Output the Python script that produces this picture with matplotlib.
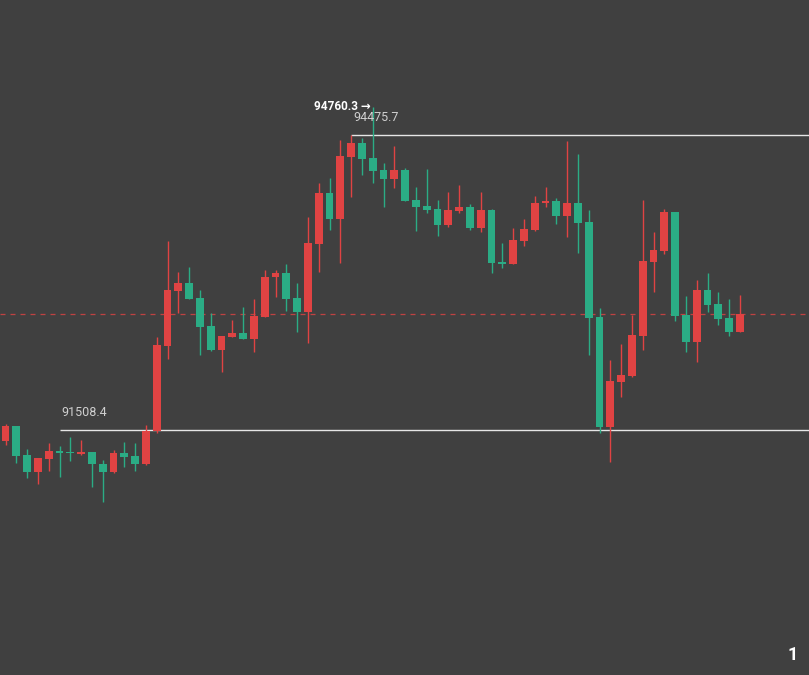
import matplotlib.pyplot as plt
import numpy as np

# OHLC (price units)
opens = [91398, 91549, 91257, 91086, 91217, 91297, 91287, 91267, 91287, 91166,
         91086, 91277, 91247, 91166, 91498, 92354, 92907, 92987, 92836, 92555,
         92314, 92444, 92484, 92424, 92645, 93048, 93088, 92836, 92696, 93380,
         93893, 93631, 94255, 94396, 94245, 94124, 94033, 94124, 93822, 93761,
         93731, 93570, 93711, 93751, 93540, 93721, 93199, 93179, 93410, 93520,
         93792, 93812, 93661, 93792, 93601, 92645, 91539, 91991, 92052, 92454,
         93199, 93309, 93701, 92665, 92394, 92917, 92776, 92635, 92494]
highs = [91569, 91549, 91318, 91227, 91378, 91348, 91438, 91408, 91290, 91206,
         91307, 91388, 91378, 91559, 92444, 93410, 93098, 93148, 92917, 92686,
         92454, 92615, 92746, 92826, 93118, 93118, 93178, 92987, 93651, 93993,
         94044, 94426, 94475.7, 94446, 94760.3, 94194, 94365, 94144, 93953, 94134,
         93822, 93902, 93973, 93782, 93902, 93731, 93390, 93540, 93631, 93862,
         93953, 93842, 94416, 94285, 93721, 92736, 92213, 92374, 92665, 93822,
         93500, 93731, 93705, 92856, 93017, 93088, 92897, 92826, 92866]
lows = [91358, 91177, 91026, 90965, 91096, 91036, 91197, 91260, 90935, 90784,
        91080, 91136, 91096, 91160, 91478, 92223, 92686, 92826, 92263, 92305,
        92092, 92440, 92424, 92293, 92640, 92846, 92706, 92494, 92384, 93098,
        93520, 93189, 93852, 94073, 93993, 93751, 93943, 93812, 93510, 93691,
        93460, 93550, 93691, 93520, 93500, 93088, 93138, 93175, 93359, 93515,
        93751, 93580, 93450, 93289, 92263, 91478, 91185, 91838, 92045, 92314,
        92897, 93279, 92605, 92293, 92193, 92696, 92565, 92454, 92490]
closes = [91549, 91247, 91086, 91227, 91297, 91277, 91272, 91287, 91166, 91086,
          91277, 91237, 91166, 91498, 92364, 92917, 92987, 92826, 92545, 92314,
          92454, 92484, 92424, 92655, 93048, 93088, 92826, 92696, 93390, 93893,
          93631, 94265, 94396, 94235, 94114, 94033, 94124, 93812, 93751, 93721,
          93570, 93721, 93751, 93540, 93721, 93189, 93179, 93420, 93530, 93792,
          93812, 93661, 93792, 93591, 92635, 91539, 92001, 92062, 92464, 93209,
          93319, 93701, 92655, 92394, 92917, 92766, 92625, 92494, 92675]

upper_level = 94475.7
lower_level = 91508.4
max_high = 94760.3
upper_start = 32
lower_start = 5

bg = '#404040'
up_col = '#e04343'
down_col = '#2bac85'

o = np.array(opens, dtype=float)
h = np.array(highs, dtype=float)
l = np.array(lows, dtype=float)
c = np.array(closes, dtype=float)
x = np.arange(len(o))
cols = [up_col if cc >= oo else down_col for oo, cc in zip(o, c)]

fig = plt.figure(figsize=(8.09, 6.75), dpi=100)
fig.patch.set_facecolor(bg)
ax = fig.add_axes([0, 0, 1, 1])
ax.set_facecolor(bg)

ax.vlines(x, l, h, colors=cols, linewidth=1.0, zorder=2)
body = np.maximum(np.abs(c - o), 12)
ax.bar(x, body, bottom=np.minimum(o, c), width=0.74, color=cols, zorder=3)

# level lines
ax.hlines(upper_level, upper_start, 80, colors='#e6e6e6', linewidth=1.0, zorder=1)
ax.hlines(lower_level, lower_start, 80, colors='#e6e6e6', linewidth=1.0, zorder=1)
ax.axhline(c[-1], color=up_col, linestyle=(0, (4, 4)), linewidth=0.9, alpha=0.8, zorder=1)

ax.annotate(f'{upper_level:.1f}', (upper_start, upper_level), xytext=(1.5, 12.5),
            textcoords='offset points', color='#d0d0d0', fontsize=9,
            family='Roboto', ha='left', va='center')
ax.annotate(f'{lower_level:.1f}', (lower_start, lower_level), xytext=(1.5, 12.5),
            textcoords='offset points', color='#d0d0d0', fontsize=9,
            family='Roboto', ha='left', va='center')
ax.annotate(f'{max_high:.1f} \u2192', (int(np.argmax(h)), max_high), xytext=(-1.5, 0.5),
            textcoords='offset points', color='white', fontsize=8.5,
            family=['Roboto', 'DejaVu Sans'], fontweight='bold', ha='right', va='center')

fig.text(0.98, 0.03, '1', color='white', fontsize=13, fontweight='bold',
         family='Roboto', ha='center', va='center')

ax.set_xlim(-5.5 / 10.8, (809 - 5.5) / 10.8)
ax.set_ylim(89043.9, 95833.7)
ax.axis('off')

plt.savefig('out.png', dpi=100, facecolor=bg)
